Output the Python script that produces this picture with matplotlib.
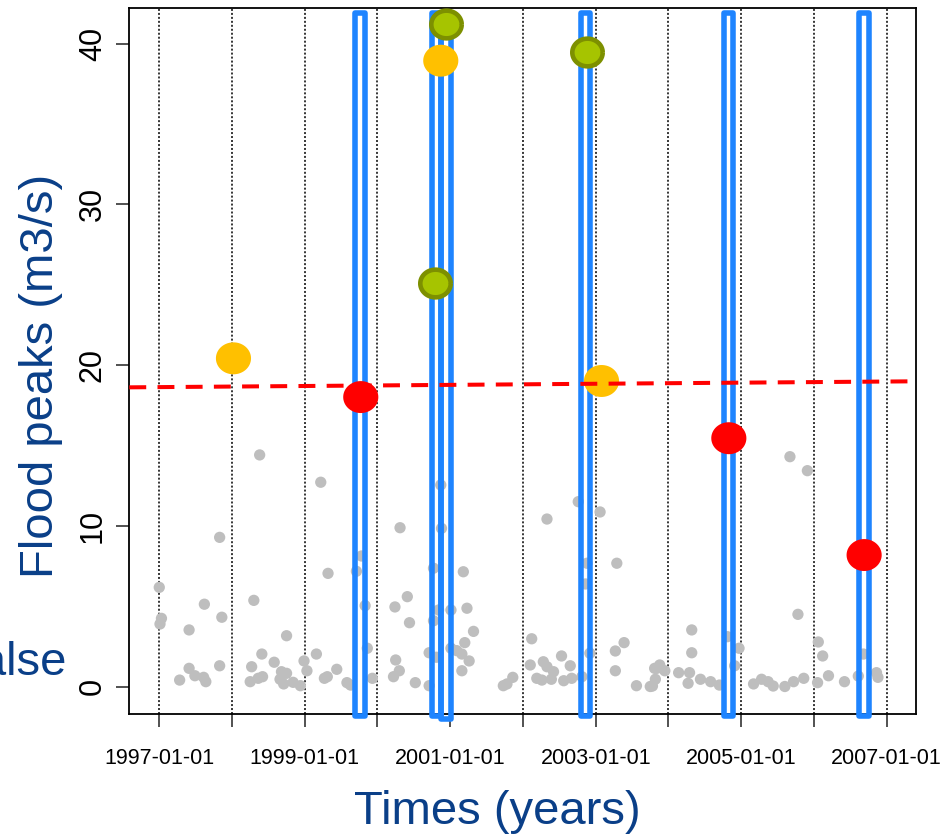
import numpy as np
import matplotlib
matplotlib.use("Agg")
import matplotlib.pyplot as plt
from matplotlib import patches

plt.rcParams['font.family'] = ['Liberation Sans', 'DejaVu Sans']

# all daily peaks (decimal years, m3/s)
peak_years = [
    1998.38, 1999.22, 1997.83, 1997.00, 1997.03, 1997.01, 1997.62, 1997.86, 1997.41, 1998.30,
    1999.32, 1998.75, 1998.41, 1998.58, 1998.27, 1997.83, 1997.41, 1997.49, 1997.61, 1997.64,
    1997.28, 1998.25, 1998.36, 1998.42, 1998.68, 1998.75, 1998.66, 1998.71, 1998.84, 1998.94,
    1998.99, 1999.03, 1999.16, 1999.44, 1999.27, 1999.31, 1999.58, 1999.63, 1999.78, 1999.71,
    1999.83, 1999.86, 1999.93, 2000.31, 2000.24, 2000.25, 2000.22, 2000.87, 2000.88, 2000.77,
    2001.18, 2000.41, 2000.44, 2000.84, 2001.01, 2001.23, 2000.77, 2001.32, 2001.20, 2000.30,
    2000.52, 2000.71, 2000.81, 2000.71, 2001.01, 2001.09, 2001.16, 2001.26, 2001.16, 2001.73,
    2001.86, 2001.78, 2002.12, 2002.33, 2002.76, 2003.06, 2002.88, 2002.86, 2003.29, 2002.10,
    2002.28, 2002.33, 2002.42, 2002.19, 2002.26, 2002.39, 2002.56, 2002.67, 2002.53, 2002.65,
    2002.81, 2002.92, 2003.27, 2003.39, 2003.27, 2003.56, 2003.75, 2003.82, 2003.84, 2005.67,
    2005.91, 2005.78, 2004.32, 2004.32, 2004.81, 2004.97, 2004.91, 2006.06, 2006.12, 2006.68,
    2003.81, 2003.88, 2003.78, 2003.95, 2004.14, 2004.29, 2004.27, 2004.44, 2004.58, 2004.70,
    2005.17, 2005.28, 2005.37, 2005.44, 2005.60, 2005.72, 2005.86, 2006.05, 2006.20, 2006.42,
    2006.61, 2006.86, 2006.88,
]
peak_values = [
    14.41, 12.71, 9.28, 6.17, 4.24, 3.89, 5.12, 4.31, 3.52, 5.36,
    7.04, 3.16, 2.02, 1.51, 1.23, 1.29, 1.13, 0.67, 0.57, 0.30,
    0.40, 0.30, 0.51, 0.61, 0.92, 0.82, 0.45, 0.16, 0.26, 0.05,
    1.59, 0.98, 2.02, 1.07, 0.51, 0.61, 0.24, 0.09, 8.12, 7.17,
    5.03, 2.38, 0.51, 9.88, 4.95, 1.65, 0.61, 12.54, 9.84, 7.36,
    7.14, 5.59, 3.97, 4.76, 4.76, 4.87, 4.09, 3.43, 2.73, 0.98,
    0.24, 2.10, 1.82, 0.05, 2.38, 2.23, 2.02, 1.59, 0.98, 0.05,
    0.57, 0.16, 2.97, 10.42, 11.50, 10.86, 7.67, 6.38, 7.67, 1.34,
    1.54, 1.23, 0.92, 0.51, 0.40, 0.45, 0.36, 0.51, 1.90, 1.29,
    0.61, 2.07, 2.21, 2.73, 0.98, 0.05, 0.00, 0.45, 1.13, 14.30,
    13.43, 4.49, 3.52, 2.10, 3.10, 2.38, 1.29, 2.77, 1.90, 2.02,
    1.13, 1.34, 0.03, 0.98, 0.86, 0.86, 0.20, 0.45, 0.30, 0.09,
    0.16, 0.45, 0.30, 0.03, 0.00, 0.30, 0.51, 0.24, 0.67, 0.30,
    0.65, 0.86, 0.57,
]

# selected flood events
orange_years = [1998.02, 2000.87, 2003.08]
orange_values = [20.42, 38.94, 19.01]
red_years = [1999.77, 2004.83, 2006.69]
red_values = [18.01, 15.45, 8.18]
green_years = [2000.79, 2000.94, 2002.88]
green_values = [25.13, 41.23, 39.50]

# event windows
window_centers = [1999.76, 2000.81, 2000.94, 2002.86, 2004.83, 2006.69]
window_bottoms = [-1.85, -1.85, -2.0, -1.85, -1.85, -1.85]
window_top = 41.88
window_width = 0.128

# threshold trend
trend_years = [1996.588, 2007.399]
trend_values = [18.615, 18.99]

year_ticks = list(range(1997, 2008))
year_labels = [f"{y}-01-01" if y % 2 == 1 else "" for y in year_ticks]
value_ticks = [0, 10, 20, 30, 40]

DARKBLUE = "#0A3F88"

fig = plt.figure(figsize=(9.53, 8.34), dpi=100)
ax = fig.add_axes([129.3 / 953, 1 - 714 / 834, (915.7 - 129.3) / 953, (714 - 8.3) / 834])

for y in year_ticks:
    ax.axvline(y, color="black", lw=1.1, linestyle=(0, (1.3, 1.3)), zorder=1)

ax.scatter(peak_years, peak_values, s=66, color="#BEBEBE", edgecolors="none", zorder=2)

for xc, yb in zip(window_centers, window_bottoms):
    rect = patches.Rectangle(
        (xc - window_width / 2, yb), window_width, window_top - yb,
        fill=False, edgecolor="#1E84FF", linewidth=4, joinstyle="round",
        clip_on=False, zorder=3,
    )
    ax.add_patch(rect)

t = np.linspace(0, 2 * np.pi, 60)
ellipse = np.column_stack([np.cos(t), 0.91 * np.sin(t)])

ax.scatter(red_years, red_values, s=640, marker=ellipse, color="#FF0000", edgecolors="none", zorder=4)
ax.scatter(orange_years, orange_values, s=640, marker=ellipse, color="#FFC000", edgecolors="none", zorder=4)
ax.scatter(green_years, green_values, s=480, marker=ellipse, facecolor="#A6C400",
           edgecolors="#7D9000", linewidths=3.3, zorder=4)

ax.plot(trend_years, trend_values, color="#FF0000", lw=2.9, linestyle=(0, (4.2, 2.8)), zorder=5)

ax.set_xlim(1996.588, 2007.399)
ax.set_ylim(-1.711, 42.20)
ax.set_xticks(year_ticks)
ax.set_xticklabels(year_labels, fontsize=15.5)
ax.set_yticks(value_ticks)
ax.set_yticklabels([str(v) for v in value_ticks], fontsize=22, rotation=90, va="center")
ax.tick_params(axis="x", length=9.4, width=1.1, color="#222222", pad=15)
ax.tick_params(axis="y", length=9.4, width=1.1, color="#222222", pad=6)
for sp in ax.spines.values():
    sp.set_linewidth(1.3)

fig.text(53.5 / 953, 1 - 376 / 834, "Flood peaks (m3/s)", rotation=90, rotation_mode="anchor",
         ha="center", va="baseline", fontsize=34, color=DARKBLUE)
fig.text(497.5 / 953, 1 - 824 / 834, "Times (years)", ha="center", va="baseline",
         fontsize=34, color=DARKBLUE)
# legend text partly off the left edge, as in the source figure
fig.text(66.7 / 953, 1 - 675 / 834, "False", ha="right", va="baseline", fontsize=34, color=DARKBLUE)

fig.savefig("out.png", dpi=100)
